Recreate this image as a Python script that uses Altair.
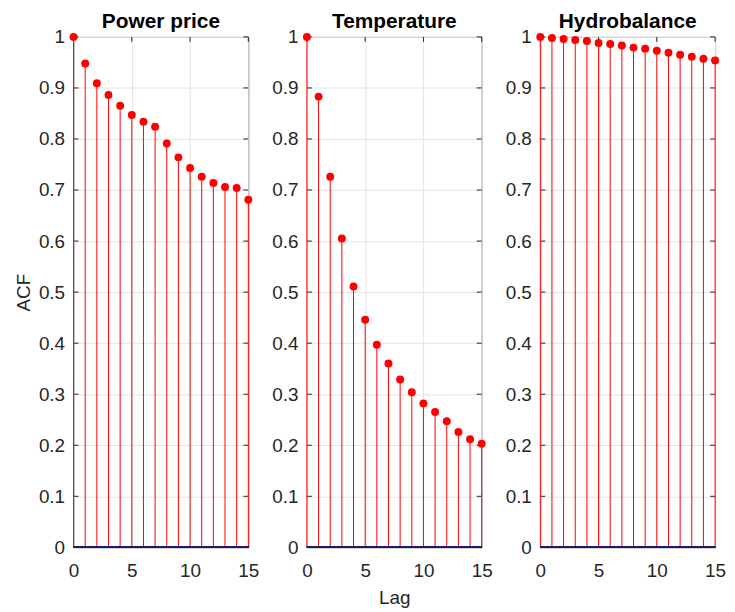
import altair as alt
import pandas as pd

lags = list(range(16))
power_price = [1.0, 0.948, 0.909, 0.886, 0.865, 0.847, 0.834, 0.824, 0.791, 0.764,
               0.743, 0.726, 0.714, 0.706, 0.704, 0.681]
temperature = [1.0, 0.883, 0.726, 0.605, 0.511, 0.446, 0.397, 0.360, 0.329, 0.304,
               0.282, 0.265, 0.247, 0.226, 0.212, 0.203]
hydrobalance = [1.0, 0.998, 0.996, 0.994, 0.992, 0.988, 0.986, 0.983, 0.979, 0.977,
                0.973, 0.969, 0.965, 0.961, 0.957, 0.954]
titles = ["Power price", "Temperature", "Hydrobalance"]
y_ticks = [0, 0.1, 0.2, 0.3, 0.4, 0.5, 0.6, 0.7, 0.8, 0.9, 1]
x_ticks = [0, 5, 10, 15]

W, H = 176, 514
FONT = "Liberation Sans"
TXT = "#262626"
FS = 19


def panel(title, values, y_title, x_title):
    df = pd.DataFrame({"lag": lags, "acf": values, "zero": [0] * len(lags)})
    ytick_df = pd.DataFrame({"t": y_ticks})
    xtick_df = pd.DataFrame({"t": x_ticks})

    xscale = alt.Scale(domain=[0, 15], nice=False, zero=False)
    yscale = alt.Scale(domain=[0, 1], nice=False)

    xaxis = alt.Axis(values=x_ticks, format="d", ticks=False, labelPadding=14,
                     titlePadding=9, grid=True, labelFlush=False)
    yaxis = alt.Axis(values=y_ticks, format="~g", ticks=False, labelPadding=9,
                     titlePadding=5, grid=True, labelFlush=False)

    if x_title:
        x_enc = alt.X("lag:Q", scale=xscale, axis=xaxis, title="Lag")
    else:
        x_enc = alt.X("lag:Q", scale=xscale, axis=xaxis, title=None)
    if y_title:
        y_enc = alt.Y("acf:Q", scale=yscale, axis=yaxis, title="ACF")
    else:
        y_enc = alt.Y("acf:Q", scale=yscale, axis=yaxis, title=None)

    stems = alt.Chart(df).mark_rule(color="#ff0000", strokeWidth=1).encode(
        x=x_enc, y=y_enc, y2="zero:Q"
    )
    base = alt.Chart(df).mark_rule(color="#1b1b6e", strokeWidth=1.5).encode(
        y=alt.datum(0, scale=yscale)
    )
    pts = alt.Chart(df).mark_circle(color="#ff0000", size=64, opacity=1).encode(
        x="lag:Q", y="acf:Q"
    )
    lticks = alt.Chart(ytick_df).mark_rule(color=TXT, strokeWidth=1).encode(
        y="t:Q", x=alt.value(0), x2=alt.value(5)
    )
    rticks = alt.Chart(ytick_df).mark_rule(color=TXT, strokeWidth=1).encode(
        y="t:Q", x=alt.value(W - 5), x2=alt.value(W)
    )
    tticks = alt.Chart(xtick_df).mark_rule(color=TXT, strokeWidth=1).encode(
        x="t:Q", y=alt.value(0), y2=alt.value(5)
    )
    return alt.layer(lticks, rticks, tticks, stems, base, pts).properties(
        width=W, height=H,
        title=alt.TitleParams(title, fontSize=21, fontWeight="bold", font=FONT,
                              color="black", offset=-4, frame="group"),
    )


chart = alt.hconcat(
    panel(titles[0], power_price, True, False),
    panel(titles[1], temperature, False, True),
    panel(titles[2], hydrobalance, False, False),
    spacing=11,
).properties(
    padding={"left": 6, "top": 0, "right": 0, "bottom": 0},
    background="white",
).configure_view(
    stroke="#666666", strokeWidth=1
).configure_axis(
    labelFont=FONT, labelFontSize=FS, labelColor=TXT,
    titleFont=FONT, titleFontSize=FS, titleFontWeight="normal", titleColor=TXT,
    gridColor="#e3e3e3", gridWidth=1, domain=False,
)

chart.save("out.html", embed_options={"renderer": "svg", "actions": False})
